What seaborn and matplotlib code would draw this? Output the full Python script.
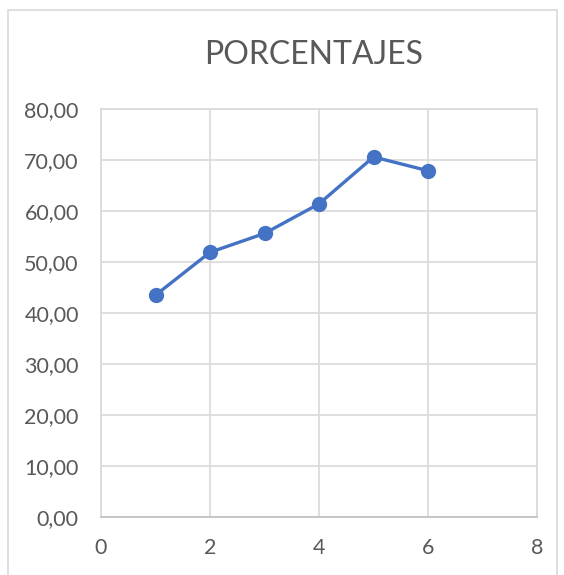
import matplotlib
matplotlib.use("Agg")
import matplotlib.pyplot as plt
import seaborn as sns
import pandas as pd
from matplotlib.patches import Rectangle

x_vals = [1, 2, 3, 4, 5, 6]
porcentajes = [43.5, 51.9, 55.6, 61.4, 70.6, 67.9]
x_ticks = [0, 2, 4, 6, 8]
y_ticks = [0, 10, 20, 30, 40, 50, 60, 70, 80]
title = "PORCENTAJES"

sns.set_theme(style="white")
plt.rcParams['font.family'] = ['Lato', 'DejaVu Sans']

df = pd.DataFrame({"x": x_vals, "y": porcentajes})

fig = plt.figure(figsize=(5.64, 5.75), dpi=100)
ax = fig.add_axes([101/564, 1-517/575, (537-101)/564, (517-109)/575])

# chart border
fig.patches.append(Rectangle((8/564, -0.05), (557-8)/564, 1.05-10/575,
                             transform=fig.transFigure, fill=False,
                             edgecolor="#d9d9d9", linewidth=1.2))

sns.lineplot(data=df, x="x", y="y", ax=ax, color="#4472C4", linewidth=2.4,
             marker="o", markersize=11, markeredgewidth=0, zorder=3)

ax.set_xlim(0, 8)
ax.set_ylim(0, 80)
ax.set_xticks(x_ticks)
ax.set_yticks(y_ticks)
ax.set_xticklabels([str(t) for t in x_ticks])
ax.set_yticklabels([f"{t:.2f}".replace(".", ",") for t in y_ticks])
ax.grid(True, color="#d9d9d9", linewidth=1.2)
ax.set_axisbelow(True)
for s in ax.spines.values():
    s.set_color("#d9d9d9")
    s.set_linewidth(1.2)
ax.spines['bottom'].set_color("#bfbfbf")
ax.tick_params(axis='both', length=0, labelsize=15.5, labelcolor="#595959")
ax.tick_params(axis='y', pad=16)
ax.tick_params(axis='x', pad=15)
ax.set_xlabel("")
ax.set_ylabel("")

fig.text(314/564, 1-55/575, title, ha="center", va="center",
         fontsize=23, color="#595959")

fig.savefig("out.png", dpi=100)
